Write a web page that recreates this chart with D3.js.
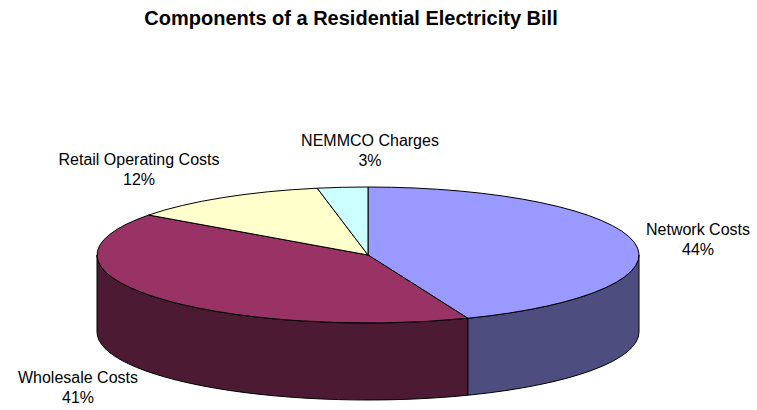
<!DOCTYPE html>
<html>
<head>
<meta charset="utf-8">
<script src="https://cdn.jsdelivr.net/npm/d3@7"></script>
<style>
  html, body { margin: 0; padding: 0; background: #fff; }
  svg { display: block; font-family: Arial, "Liberation Sans", sans-serif; }
</style>
</head>
<body>
<svg id="chart" width="757" height="410"></svg>
<script>
// ---- data ----
const categories = ["Network Costs", "Wholesale Costs", "Retail Operating Costs", "NEMMCO Charges"];
const values = [44, 41, 12, 3];
const percentLabels = ["44%", "41%", "12%", "3%"];
const title = "Components of a Residential Electricity Bill";

// ---- styles / layout ----
const topColors = ["#9999FF", "#993366", "#FFFFCC", "#CCFFFF"];
const sideColors = ["#4D4D80", "#4D1A33", "#80806A", "#6A8080"];
const labelAnchors = [[698, 235], [78, 383], [139, 165], [370, 146]];
const W = 757, H = 410;
const cx = 368, cy = 255, rx = 271, ry = 68, depth = 77;

const svg = d3.select("#chart");

const pie = d3.pie().sort(null).value(d => d.value).startAngle(0).endAngle(2 * Math.PI);
const arcs = pie(categories.map((c, i) => ({ name: c, value: values[i], i })));

const P = (a, dy = 0) => [cx + rx * Math.sin(a), cy - ry * Math.cos(a) + dy];

// outer walls (front half only: angles between PI/2 and 3PI/2)
const wallG = svg.append("g");
arcs.forEach(d => {
  const a0 = Math.max(d.startAngle, Math.PI / 2);
  const a1 = Math.min(d.endAngle, 3 * Math.PI / 2);
  if (a1 <= a0) return;
  const p0 = P(a0), p1 = P(a1), q1 = P(a1, depth), q0 = P(a0, depth);
  const large = (a1 - a0) > Math.PI ? 1 : 0;
  const path = `M${p0[0]},${p0[1]} A${rx},${ry} 0 ${large} 1 ${p1[0]},${p1[1]} ` +
               `L${q1[0]},${q1[1]} A${rx},${ry} 0 ${large} 0 ${q0[0]},${q0[1]} Z`;
  wallG.append("path")
    .attr("d", path)
    .attr("fill", sideColors[d.data.i])
    .attr("stroke", "#000")
    .attr("stroke-width", 1)
    .attr("stroke-linejoin", "round");
});

// tops
const topG = svg.append("g");
arcs.forEach(d => {
  const p0 = P(d.startAngle), p1 = P(d.endAngle);
  const large = (d.endAngle - d.startAngle) > Math.PI ? 1 : 0;
  const path = `M${cx},${cy} L${p0[0]},${p0[1]} A${rx},${ry} 0 ${large} 1 ${p1[0]},${p1[1]} Z`;
  topG.append("path")
    .attr("d", path)
    .attr("fill", topColors[d.data.i])
    .attr("stroke", "#000")
    .attr("stroke-width", 1)
    .attr("stroke-linejoin", "round");
});

// labels
const labG = svg.append("g");
arcs.forEach(d => {
  const [x, y] = labelAnchors[d.data.i];
  const t = labG.append("text")
    .attr("x", x).attr("y", y)
    .attr("text-anchor", "middle")
    .attr("font-size", 16)
    .attr("fill", "#000");
  t.append("tspan").attr("x", x).attr("y", y).text(d.data.name);
  t.append("tspan").attr("x", x).attr("y", y + 20).text(percentLabels[d.data.i]);
});

// title
svg.append("text")
  .attr("x", 351).attr("y", 25)
  .attr("text-anchor", "middle")
  .attr("font-size", 20)
  .attr("font-weight", "bold")
  .attr("fill", "#000")
  .text(title);
</script>
</body>
</html>
